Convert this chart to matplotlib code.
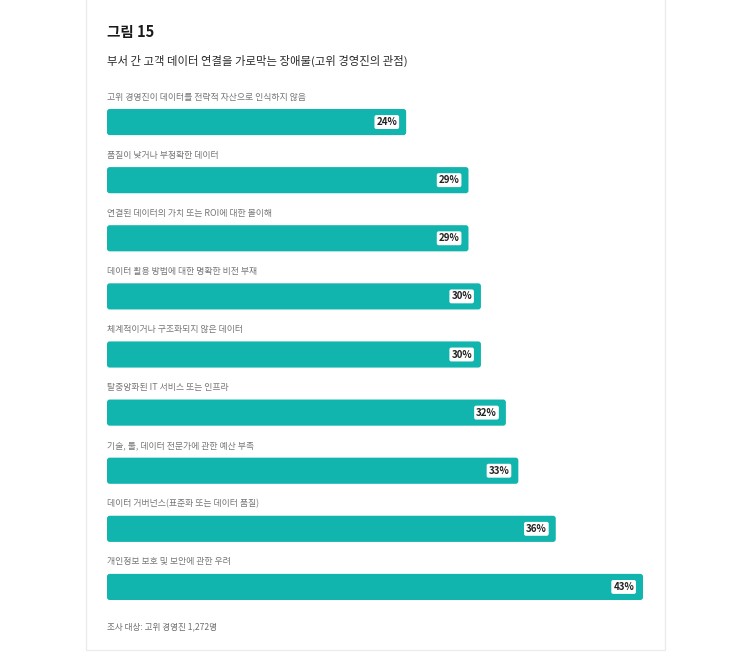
import matplotlib.pyplot as plt
from matplotlib.patches import FancyBboxPatch, Rectangle

plt.rcParams['font.family'] = ['Noto Sans CJK KR', 'DejaVu Sans']

categories = [
    '고위 경영진이 데이터를 전략적 자산으로 인식하지 않음',
    '품질이 낮거나 부정확한 데이터',
    '연결된 데이터의 가치 또는 ROI에 대한 몰이해',
    '데이터 활용 방법에 대한 명확한 비전 부재',
    '체계적이거나 구조화되지 않은 데이터',
    '탈중앙화된 IT 서비스 또는 인프라',
    '기술, 툴, 데이터 전문가에 관한 예산 부족',
    '데이터 거버넌스(표준화 또는 데이터 품질)',
    '개인정보 보호 및 보안에 관한 우려',
]
values = [24, 29, 29, 30, 30, 32, 33, 36, 43]

title = '그림 15'
subtitle = '부서 간 고객 데이터 연결을 가로막는 장애물(고위 경영진의 관점)'
footer = '조사 대상: 고위 경영진 1,272명'

bar_color = '#12b5ad'

fig = plt.figure(figsize=(7.5, 6.53), dpi=100)
fig.patch.set_facecolor('white')

# card background
card = Rectangle((86 / 750, 3 / 653), 579 / 750, 660 / 653, transform=fig.transFigure,
                 facecolor='white', edgecolor='#ececec', linewidth=1.0, zorder=-5)
fig.patches.append(card)

ax = fig.add_axes([107 / 750, 1 - 616 / 653, 536 / 750, 523 / 653])
ax.set_zorder(2)
ax.set_xlim(0, 43)
ax.set_ylim(len(values) - 0.5, -0.5)
ax.axis('off')

bars = ax.barh(range(len(values)), values, height=0.45, color=bar_color)
for b in bars:
    x, y = b.get_x(), b.get_y()
    w, h = b.get_width(), b.get_height()
    b.set_visible(False)
    ax.add_patch(FancyBboxPatch((x, y), w, h,
                                boxstyle='round,pad=0,rounding_size=0.22',
                                mutation_aspect=0.21,
                                facecolor=bar_color, edgecolor='none'))

for i, (cat, v) in enumerate(zip(categories, values)):
    ax.text(0, i - 0.43, cat, fontsize=6.4, color='#777777', va='center', ha='left')
    ax.annotate(f'{v}%', xy=(v, i), xytext=(-9, 0), textcoords='offset pixels',
                ha='right', va='center', fontsize=7, fontweight='bold', color='#222222',
                bbox=dict(boxstyle='round,pad=0.2,rounding_size=0.2',
                          facecolor='white', edgecolor='none'))

fig.text(107 / 750, 1 - 32 / 653, title, fontsize=10.5, fontweight='bold',
         color='#1a1a1a', va='center', ha='left')
fig.text(107 / 750, 1 - 61 / 653, subtitle, fontsize=8.2, color='#2a2a2a',
         va='center', ha='left')
fig.text(107 / 750, 1 - 627 / 653, footer, fontsize=6.2, color='#6e6e6e',
         va='center', ha='left')

fig.savefig('out.png', dpi=100)
